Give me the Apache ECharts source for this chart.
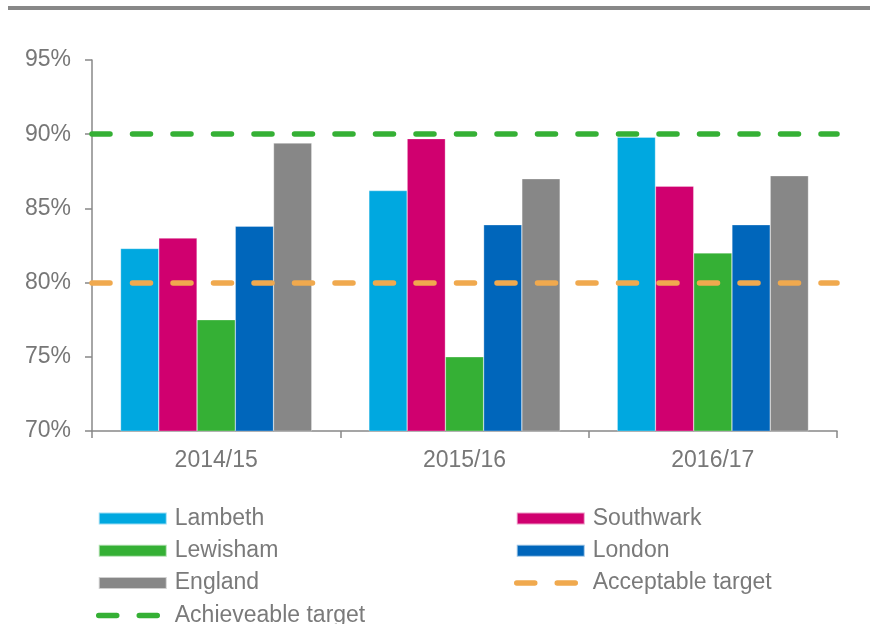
<!DOCTYPE html>
<html>
<head>
<meta charset="utf-8">
<script src="https://cdn.jsdelivr.net/npm/echarts@6/dist/echarts.min.js"></script>
<style>
  html, body { margin: 0; padding: 0; background: #fff; }
  #chart { width: 870px; height: 624px; }
</style>
</head>
<body>
<div id="chart"></div>
<script>
// years on the x axis
const years = ['2014/15', '2015/16', '2016/17'];
// % values
const lambeth = [82.3, 86.2, 89.8];
const southwark = [83.0, 89.7, 86.5];
const lewisham = [77.5, 75.0, 82.0];
const london = [83.8, 83.9, 83.9];
const england = [89.4, 87.0, 87.2];
// targets
const achieveableTarget = 90;
const acceptableTarget = 80;

const font = 'Liberation Sans, Arial, sans-serif';
const dash = [18, 22.5];

function barSeries(name, data, color) {
  return {
    name: name,
    type: 'bar',
    data: data,
    barGap: '0%',
    barCategoryGap: '23%',
    itemStyle: { color: color, borderColor: 'rgba(255,255,255,0.6)', borderWidth: 0.5 }
  };
}

// line series only there for the legend, the line itself is a markLine
function targetSeries(name, value, color) {
  return {
    name: name,
    type: 'line',
    data: [],
    symbol: 'none',
    itemStyle: { color: color },
    lineStyle: { color: color, width: 5.5, type: dash, cap: 'round' },
    markLine: {
      silent: true,
      symbol: 'none',
      label: { show: false },
      lineStyle: { color: color, width: 5.5, type: dash, cap: 'round' },
      data: [{ yAxis: value }]
    }
  };
}

// legend entry for a dashed target: no dot, thick dashes
function dashedItem(name) {
  return {
    name: name,
    itemStyle: { color: 'rgba(0,0,0,0)', borderWidth: 0 },
    lineStyle: { width: 5.5, type: dash, cap: 'round' }
  };
}

const legendCommon = {
  orient: 'vertical',
  top: 507,
  height: 130,
  padding: 0,
  itemWidth: 68,
  itemHeight: 12,
  itemGap: 9.3,
  textStyle: { fontFamily: font, fontSize: 23, lineHeight: 23, color: '#7a7a7a', padding: [0, 0, 0, 3] }
};

var chart = echarts.init(document.getElementById('chart'));
chart.setOption({
  backgroundColor: '#fff',
  animation: false,
  graphic: [{
    type: 'rect',
    shape: { x: 8, y: 6, width: 862, height: 4 },
    style: { fill: '#888888' }
  }],
  grid: { left: 92, right: 33, top: 60, bottom: 193 },
  legend: [
    Object.assign({}, legendCommon, {
      left: 96,
      data: [
        { name: 'Lambeth', icon: 'rect' },
        { name: 'Lewisham', icon: 'rect' },
        { name: 'England', icon: 'rect' },
        dashedItem('Achieveable target')
      ]
    }),
    Object.assign({}, legendCommon, {
      left: 514,
      data: [
        { name: 'Southwark', icon: 'rect' },
        { name: 'London', icon: 'rect' },
        dashedItem('Acceptable target')
      ]
    })
  ],
  xAxis: {
    type: 'category',
    data: years,
    axisLine: { lineStyle: { color: '#888', width: 1.5 } },
    axisTick: { show: true, length: 7, lineStyle: { color: '#888', width: 1.5 } },
    axisLabel: { fontFamily: font, fontSize: 23, color: '#777', margin: 18 }
  },
  yAxis: {
    type: 'value',
    min: 70,
    max: 95,
    interval: 5,
    splitLine: { show: false },
    axisLine: { show: true, lineStyle: { color: '#888', width: 1.5 } },
    axisTick: { show: true, length: 7, lineStyle: { color: '#888', width: 1.5 } },
    axisLabel: { fontFamily: font, fontSize: 23, color: '#777', margin: 21,
      formatter: '{value}%' }
  },
  series: [
    barSeries('Lambeth', lambeth, '#00a8e0'),
    barSeries('Southwark', southwark, '#d0006f'),
    barSeries('Lewisham', lewisham, '#35b035'),
    barSeries('London', london, '#0066bb'),
    barSeries('England', england, '#878787'),
    targetSeries('Acceptable target', acceptableTarget, '#f0a94e'),
    targetSeries('Achieveable target', achieveableTarget, '#35b035')
  ]
});
</script>
</body>
</html>
